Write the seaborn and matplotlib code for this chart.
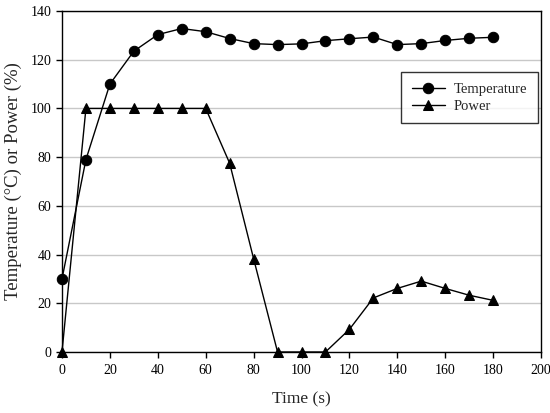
"""Temperature and power vs time"""
import pandas as pd
import matplotlib
matplotlib.use('Agg')
import matplotlib.pyplot as plt
import seaborn as sns

#Data
time_s = [0, 10, 20, 30, 40, 50, 60, 70, 80, 90,
          100, 110, 120, 130, 140, 150, 160, 170, 180]
temperature = [30, 79, 110, 123.5, 130.3, 132.8, 131.5, 128.7, 126.6, 126.2,
               126.5, 127.8, 128.6, 129.3, 126.2, 126.6, 127.9, 128.8, 129.2]
power = [0, 100, 100, 100, 100, 100, 100, 77.5, 38.3, 0,
         0, 0, 9.3, 22.2, 26.1, 29.1, 26.1, 23.3, 21.2]

df = pd.DataFrame({'time': time_s, 'Temperature': temperature, 'Power': power})

sns.set_style('white')
plt.rcParams['font.family'] = ['Liberation Serif', 'DejaVu Serif']

fig = plt.figure(figsize=(5.5, 4.13), dpi=100)
ax = fig.add_axes([0.1127, 0.1477, 0.871, 0.8257])

#Horizontal grid lines
ax.yaxis.grid(True, color='#c8c8c8', linewidth=1.0)
ax.set_axisbelow(True)

sns.lineplot(data=df, x='time', y='Temperature', ax=ax, color='black',
             marker='o', markersize=7.5, markeredgecolor='black',
             linewidth=1.0, clip_on=False, label='Temperature')
sns.lineplot(data=df, x='time', y='Power', ax=ax, color='black',
             marker='^', markersize=7.5, markeredgecolor='black',
             linewidth=1.0, clip_on=False, label='Power')

ax.set_xlim(0, 200)
ax.set_ylim(0, 140)
ax.set_xticks(range(0, 201, 20))
ax.set_yticks(range(0, 141, 20))
ax.tick_params(axis='both', direction='out', length=4, width=1,
               labelsize=10, colors='black', bottom=True, left=True)
ax.tick_params(axis='x', pad=5)

for spine in ax.spines.values():
    spine.set_color('black')
    spine.set_linewidth(1.0)

ax.set_xlabel('Time (s)', fontsize=12.5, labelpad=10)
ax.set_ylabel('Temperature (\u00b0C) or Power (%)', fontsize=13.5, labelpad=6)

leg = ax.legend(loc='upper right', bbox_to_anchor=(0.993, 0.82),
                frameon=True, fancybox=False, shadow=False, fontsize=10.5,
                handlelength=2.3, handletextpad=0.6, borderpad=0.7,
                labelspacing=0.25, borderaxespad=0)
leg.get_frame().set_edgecolor('black')
leg.get_frame().set_linewidth(1.0)

fig.savefig('out.png', dpi=100)
